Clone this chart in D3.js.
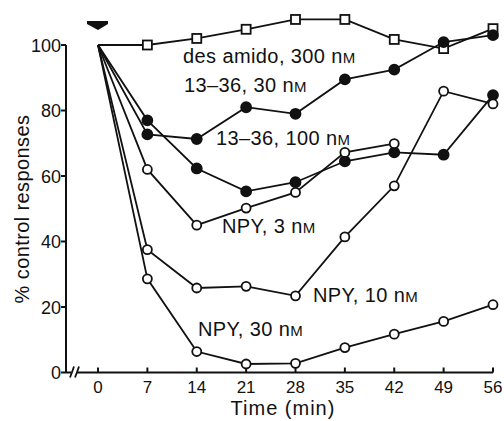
<!DOCTYPE html>
<html>
<head>
<meta charset="utf-8">
<script src="https://cdn.jsdelivr.net/npm/d3@7"></script>
<style>
  body { margin: 0; background: #fff; }
  text { font-family: "Liberation Sans", Arial, sans-serif; fill: #111; }
</style>
</head>
<body>
<div id="chart"></div>
<script>
// time points (min)
const times = [0, 7, 14, 21, 28, 35, 42, 49, 56]
const yTicks = [0, 20, 40, 60, 80, 100]

// % control responses
const desAmido300 = [100, 100, 102, 104.8, 107.8, 107.8, 101.7, 98.9, 105]
const f1336_30 = [100, 72.7, 71.3, 81, 79, 89.5, 92.5, 100.9, 103]
const f1336_100 = [100, 77, 62.3, 55.3, 58.1, 64.5, 67.2, 66.5, 84.7]
const npy3 = [100, 62, 45, 50.2, 55, 67.2, 69.9]
const npy10 = [100, 37.5, 25.8, 26.3, 23.4, 41.4, 57, 85.9, 82]
const npy30 = [100, 28.6, 6.4, 2.6, 2.8, 7.6, 11.7, 15.6, 20.7]

const series = [
  { name: "des amido", conc: "300", values: desAmido300, marker: "square", lx: 183, ly: 63 },
  { name: "13–36", conc: "30", values: f1336_30, marker: "filled", lx: 184, ly: 92 },
  { name: "13–36", conc: "100", values: f1336_100, marker: "filled", lx: 216, ly: 145 },
  { name: "NPY", conc: "3", values: npy3, marker: "open", lx: 222, ly: 233 },
  { name: "NPY", conc: "10", values: npy10, marker: "open", lx: 313, ly: 302 },
  { name: "NPY", conc: "30", values: npy30, marker: "open", lx: 198, ly: 336 }
]

const width = 504, height = 421
const svg = d3.select("#chart").append("svg")
  .attr("width", width)
  .attr("height", height)

const x = d3.scaleLinear([0, 56], [98, 493])
const y = d3.scaleLinear([0, 100], [372.5, 45])
const axisX0 = 66

// y axis
svg.append("line")
  .attr("x1", axisX0).attr("x2", axisX0)
  .attr("y1", y(0)).attr("y2", y(100))
  .attr("stroke", "#111").attr("stroke-width", 2)
svg.selectAll(".ytick").data(yTicks).join("line")
  .attr("x1", axisX0 - 5).attr("x2", axisX0)
  .attr("y1", d => y(d)).attr("y2", d => y(d))
  .attr("stroke", "#111").attr("stroke-width", 2)
svg.selectAll(".ylab").data(yTicks).join("text")
  .attr("x", axisX0 - 5).attr("y", d => y(d) + 6.5)
  .attr("text-anchor", "end")
  .attr("font-size", 18)
  .text(d => d)

// x axis with break
svg.append("line")
  .attr("x1", axisX0).attr("x2", x(56))
  .attr("y1", y(0)).attr("y2", y(0))
  .attr("stroke", "#111").attr("stroke-width", 2)
svg.append("rect")
  .attr("x", 71).attr("y", y(0) - 3).attr("width", 6).attr("height", 6)
  .attr("fill", "#fff")
;[70, 75].forEach(bx => {
  svg.append("path")
    .attr("d", `M${bx},${y(0) + 5} Q${bx + 2},${y(0)} ${bx + 4},${y(0) - 6}`)
    .attr("fill", "none").attr("stroke", "#111").attr("stroke-width", 1.8)
})
svg.selectAll(".xtick").data(times).join("line")
  .attr("x1", d => x(d)).attr("x2", d => x(d))
  .attr("y1", y(0)).attr("y2", y(0) - 5)
  .attr("stroke", "#111").attr("stroke-width", 2)
svg.selectAll(".xlab").data(times).join("text")
  .attr("x", d => x(d)).attr("y", y(0) + 20)
  .attr("text-anchor", "middle")
  .attr("font-size", 17)
  .text(d => d)

// axis titles
svg.append("text")
  .attr("x", 283).attr("y", 415)
  .attr("text-anchor", "middle")
  .attr("font-size", 20)
  .attr("letter-spacing", 1)
  .text("Time (min)")
svg.append("text")
  .attr("transform", "translate(29,209) rotate(-90)")
  .attr("text-anchor", "middle")
  .attr("font-size", 20)
  .attr("letter-spacing", 0.4)
  .text("% control responses")

// arrow marking the start of application
svg.append("path")
  .attr("d", `M${x(0) - 11},21 L${x(0) + 10},21 L${x(0) + 10},24 L${x(0)},30 L${x(0) - 11},24 Z`)
  .attr("fill", "#111")

// lines
const line = d3.line()
  .x((d, i) => x(times[i]))
  .y(d => y(d))

series.forEach(s => {
  svg.append("path")
    .datum(s.values)
    .attr("d", line)
    .attr("fill", "none")
    .attr("stroke", "#111")
    .attr("stroke-width", 1.8)
})

// markers (skip the shared origin point)
series.forEach(s => {
  const pts = s.values.map((v, i) => ({ t: times[i], v })).filter(p => p.t > 0)
  if (s.marker === "square") {
    svg.selectAll(null).data(pts).join("rect")
      .attr("x", d => x(d.t) - 4.5).attr("y", d => y(d.v) - 4.5)
      .attr("width", 9).attr("height", 9)
      .attr("fill", "#fff").attr("stroke", "#111").attr("stroke-width", 1.8)
  } else {
    svg.selectAll(null).data(pts).join("circle")
      .attr("cx", d => x(d.t)).attr("cy", d => y(d.v))
      .attr("r", s.marker === "filled" ? 5 : 4.5)
      .attr("fill", s.marker === "filled" ? "#111" : "#fff")
      .attr("stroke", "#111").attr("stroke-width", 1.8)
  }
})

// series labels
series.forEach(s => {
  const t = svg.append("text")
    .attr("x", s.lx).attr("y", s.ly)
    .attr("font-size", 20)
    .attr("letter-spacing", 0.4)
  t.append("tspan").text(`${s.name}, ${s.conc} n`)
  t.append("tspan").attr("font-size", 15).text("M")
})
</script>
</body>
</html>
